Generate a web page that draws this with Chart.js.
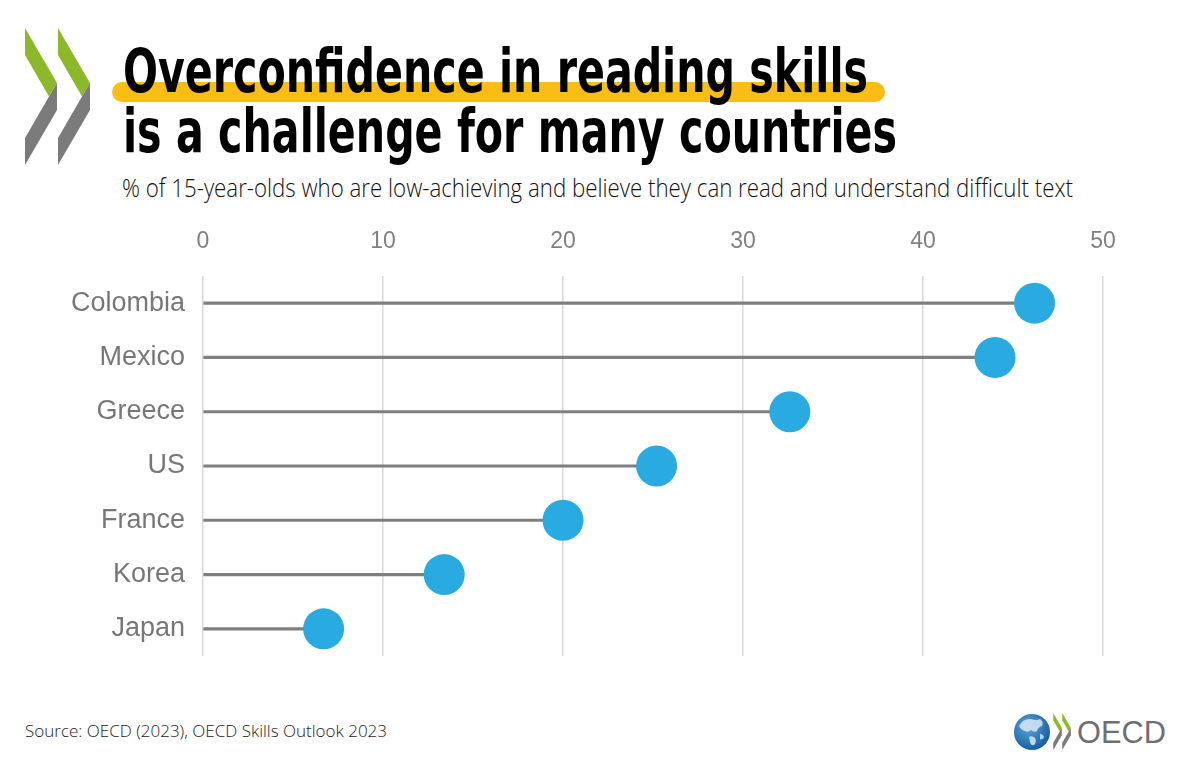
<!DOCTYPE html>
<html>
<head>
<meta charset="utf-8">
<script src="https://cdn.jsdelivr.net/npm/chart.js@4/dist/chart.umd.min.js"></script>
<style>
  html, body { margin: 0; padding: 0; background: #fff; }
  #page { position: relative; width: 1200px; height: 765px; overflow: hidden; background: #fff; }
  #deco { position: absolute; left: 0; top: 0; }
  #wrap { position: absolute; left: 0; top: 215px; width: 1200px; height: 445px; }
  .title { font-family: "DejaVu Sans Condensed", "DejaVu Sans", sans-serif; font-stretch: condensed; font-weight: bold; }
</style>
</head>
<body>
<div id="page">
  <svg id="deco" width="1200" height="765" xmlns="http://www.w3.org/2000/svg">
    <defs>
      <g id="chev">
        <polygon points="25,28 57,83 49,96.5 25,55" fill="#8cb929"/>
        <polygon points="57,83 57,110 25,165 25,138 49,96.5" fill="#7b7b7b"/>
      </g>
      <radialGradient id="globeFill" cx="0.4" cy="0.35" r="0.7">
        <stop offset="0" stop-color="#5aa7de"/>
        <stop offset="1" stop-color="#13599b"/>
      </radialGradient>
    </defs>

    <!-- big chevrons -->
    <use href="#chev"/>
    <use href="#chev" transform="translate(33,0)"/>

    <!-- highlight behind first title line -->
    <rect x="112" y="82" width="773" height="20" rx="10" ry="10" fill="#f9bd14"/>

    <text class="title" x="123" y="92" font-size="60"
          textLength="745" lengthAdjust="spacingAndGlyphs" fill="#000">Overconfidence in reading skills</text>
    <text class="title" x="123" y="152" font-size="60"
          textLength="774" lengthAdjust="spacingAndGlyphs" fill="#000">is a challenge for many countries</text>

    <text x="122" y="197" font-family="Open Sans" font-weight="300" font-size="26"
          textLength="951" lengthAdjust="spacingAndGlyphs" fill="#111">% of 15-year-olds who are low-achieving and believe they can read and understand difficult text</text>

    <text x="25" y="737" font-family="Open Sans" font-weight="300" font-size="17"
          textLength="362" lengthAdjust="spacingAndGlyphs" fill="#222">Source: OECD (2023), OECD Skills Outlook 2023</text>

    <!-- OECD logo -->
    <circle cx="1032" cy="732" r="18" fill="url(#globeFill)"/>
    <path d="M1019,726 q4,-8 12,-7 q5,2 9,0 q4,3 2,7 q-4,1 -5,5 q-3,2 -6,-1 q-3,3 -6,1 q-4,-1 -6,-5z" fill="#d6e8f5" opacity="0.85"/>
    <path d="M1029,737 q3,-2 6,1 q2,4 -1,7 q-3,1 -4,-3z" fill="#d6e8f5" opacity="0.85"/>
    <path d="M1040,734 q3,0 4,3 q-1,3 -4,2z" fill="#d6e8f5" opacity="0.8"/>
    <use href="#chev" transform="translate(1046.5,705.5) scale(0.27)"/>
    <use href="#chev" transform="translate(1055.5,705.5) scale(0.27)"/>
    <text x="1077" y="743" font-family="Liberation Sans" font-size="31"
          textLength="89" lengthAdjust="spacingAndGlyphs" fill="#6f6f70">OECD</text>
  </svg>
  <div id="wrap"><canvas id="myChart" width="1200" height="445"></canvas></div>
</div>

<script>
const countries = ['Colombia', 'Mexico', 'Greece', 'US', 'France', 'Korea', 'Japan'];
const shares = [46.2, 44.0, 32.6, 25.2, 20.0, 13.4, 6.7];
const xMin = 0;
const xMax = 50;
const xStep = 10;

const ctx = document.getElementById('myChart').getContext('2d');

const myChart = new Chart(ctx, {
  type: 'bar',
  data: {
    labels: countries,
    datasets: [
      {
        // the dots
        type: 'line',
        indexAxis: 'y',
        data: shares,
        showLine: false,
        pointRadius: 20.5,
        pointHoverRadius: 20.5,
        pointBackgroundColor: '#29abe2',
        pointBorderWidth: 0,
        borderWidth: 0,
        clip: false,
        order: 0
      },
      {
        // the stems
        type: 'bar',
        indexAxis: 'y',
        data: shares,
        backgroundColor: '#7f7f7f',
        barThickness: 2.5,
        borderWidth: 0,
        order: 1
      }
    ]
  },
  options: {
    indexAxis: 'y',
    responsive: false,
    animation: false,
    layout: { autoPadding: false, padding: { left: 0, right: 97, top: 0, bottom: 4 } },
    plugins: {
      legend: { display: false },
      tooltip: { enabled: false }
    },
    scales: {
      x: {
        position: 'top',
        min: xMin,
        max: xMax,
        afterFit: function (scale) { scale.height = 61; },
        ticks: {
          stepSize: xStep,
          padding: 21,
          color: '#808080',
          font: { family: 'Liberation Sans', size: 23 }
        },
        grid: { color: '#d9d9d9', lineWidth: 1.5, drawTicks: false },
        border: { display: false }
      },
      y: {
        afterFit: function (scale) {
          scale.width = 203;
          // labels sit inside their bands, no overhang needed
          scale.paddingTop = 0;
          scale.paddingBottom = 0;
        },
        ticks: {
          padding: 18,
          color: '#777777',
          font: { family: 'Liberation Sans', size: 27 }
        },
        grid: { display: false, drawTicks: false },
        border: { display: false }
      }
    }
  }
});
</script>
</body>
</html>
